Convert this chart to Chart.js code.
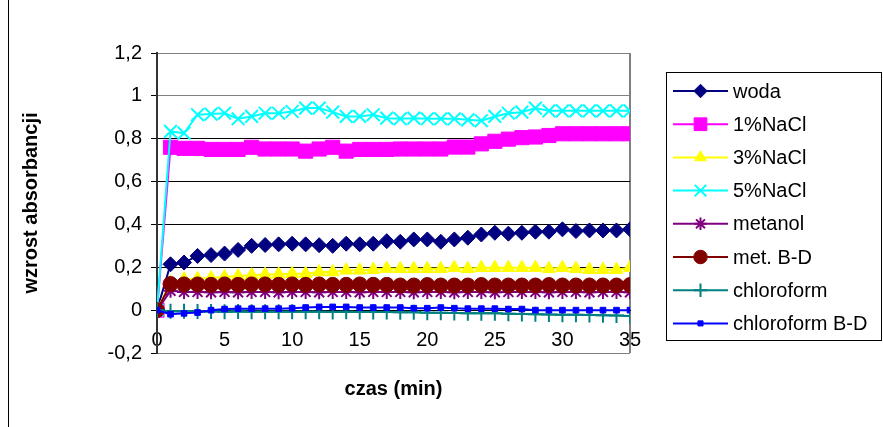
<!DOCTYPE html>
<html>
<head>
<meta charset="utf-8">
<script src="https://cdn.jsdelivr.net/npm/chart.js"></script>
<style>
  html, body { margin: 0; padding: 0; background: #fff; }
  #wrap { position: relative; width: 883px; height: 427px; }
  #frame { position: absolute; left: 8px; top: 0; width: 1px; height: 427px; background: #000; }
</style>
</head>
<body>
<div id="wrap">
  <canvas id="absChart"></canvas>
  <div id="frame"></div>
</div>
<script>
const minutes = [0, 1, 2, 3, 4, 5, 6, 7, 8, 9, 10, 11, 12, 13, 14, 15, 16, 17,
                 18, 19, 20, 21, 22, 23, 24, 25, 26, 27, 28, 29, 30, 31, 32, 33, 34, 35];

const woda = [0, 0.214, 0.222, 0.253, 0.257, 0.264, 0.281, 0.300, 0.304, 0.307, 0.310, 0.307,
              0.303, 0.300, 0.310, 0.307, 0.310, 0.322, 0.319, 0.330, 0.330, 0.319, 0.330, 0.338,
              0.353, 0.361, 0.357, 0.361, 0.366, 0.366, 0.377, 0.369, 0.372, 0.372, 0.372, 0.377];
const nacl1 = [0, 0.760, 0.755, 0.755, 0.750, 0.750, 0.750, 0.760, 0.752, 0.752, 0.752, 0.742,
               0.752, 0.760, 0.742, 0.750, 0.750, 0.750, 0.752, 0.752, 0.752, 0.752, 0.761, 0.761,
               0.776, 0.788, 0.798, 0.805, 0.808, 0.815, 0.823, 0.823, 0.823, 0.823, 0.823, 0.823];
const nacl3 = [0, 0.130, 0.144, 0.147, 0.150, 0.155, 0.159, 0.163, 0.166, 0.167, 0.170, 0.170,
               0.178, 0.178, 0.186, 0.186, 0.189, 0.194, 0.193, 0.193, 0.193, 0.193, 0.198, 0.193,
               0.198, 0.198, 0.198, 0.198, 0.198, 0.193, 0.198, 0.193, 0.189, 0.189, 0.189, 0.198];
const nacl5 = [0, 0.834, 0.826, 0.912, 0.915, 0.919, 0.893, 0.904, 0.919, 0.919, 0.927, 0.943,
               0.943, 0.924, 0.904, 0.904, 0.912, 0.896, 0.893, 0.896, 0.893, 0.893, 0.893, 0.888,
               0.884, 0.904, 0.919, 0.924, 0.943, 0.930, 0.930, 0.930, 0.930, 0.930, 0.930, 0.930];
const metanol = [0, 0.090, 0.085, 0.085, 0.083, 0.085, 0.083, 0.085, 0.085, 0.083, 0.085, 0.085,
                 0.083, 0.085, 0.085, 0.083, 0.085, 0.085, 0.085, 0.083, 0.085, 0.085, 0.083, 0.085,
                 0.085, 0.083, 0.085, 0.085, 0.085, 0.083, 0.085, 0.085, 0.083, 0.085, 0.085, 0.083];
const metBD = [0, 0.122, 0.120, 0.120, 0.118, 0.120, 0.118, 0.120, 0.120, 0.118, 0.120, 0.118,
               0.120, 0.118, 0.118, 0.120, 0.118, 0.118, 0.115, 0.115, 0.117, 0.115, 0.115, 0.115,
               0.117, 0.115, 0.115, 0.115, 0.115, 0.117, 0.115, 0.115, 0.115, 0.115, 0.115, 0.117];
const chloroform = [0, -0.005, -0.005, -0.006, -0.006, -0.007, -0.006, -0.007, -0.007, -0.008, -0.007, -0.008,
                    -0.008, -0.009, -0.008, -0.009, -0.009, -0.009, -0.010, -0.010, -0.012, -0.012, -0.013, -0.014,
                    -0.015, -0.015, -0.017, -0.018, -0.019, -0.020, -0.021, -0.022, -0.023, -0.024, -0.025, -0.027];
const chloroformBD = [0, -0.019, -0.015, -0.011, 0.000, 0.005, 0.007, 0.007, 0.007, 0.007, 0.009, 0.012,
                      0.015, 0.015, 0.015, 0.012, 0.012, 0.012, 0.012, 0.009, 0.009, 0.012, 0.009, 0.007,
                      0.007, 0.007, 0.005, 0.005, 0.000, 0.000, 0.000, 0.000, 0.000, 0.000, 0.000, 0.000];

const seriesNames = ['woda', '1%NaCl', '3%NaCl', '5%NaCl', 'metanol', 'met. B-D', 'chloroform', 'chloroform B-D'];
const yTickLabels = ['-0,2', '0', '0,2', '0,4', '0,6', '0,8', '1', '1,2'];

const FONT = 'Liberation Sans, Arial, sans-serif';
Chart.defaults.color = '#000';
Chart.defaults.font.family = FONT;

const styles = [
    { color: '#000080', pointStyle: 'rectRot', radius: 7.5, bw: 1 },
    { color: '#FF00FF', pointStyle: 'rect', radius: 10, bw: 1 },
    { color: '#FFFF00', pointStyle: 'triangle', radius: 7.5, bw: 1 },
    { color: '#00FFFF', pointStyle: 'crossRot', radius: 9, bw: 2 },
    { color: '#800080', pointStyle: 'star', radius: 7, bw: 2 },
    { color: '#800000', pointStyle: 'circle', radius: 7.5, bw: 1 },
    { color: '#008080', pointStyle: 'cross', radius: 7.5, bw: 2 },
    { color: '#0000FF', pointStyle: 'rect', radius: 4, bw: 1 },
];

const allValues = [woda, nacl1, nacl3, nacl5, metanol, metBD, chloroform, chloroformBD];

const datasets = allValues.map((vals, i) => ({
    label: seriesNames[i],
    data: minutes.map((m, k) => ({ x: m, y: vals[k] })),
    borderColor: styles[i].color,
    backgroundColor: styles[i].color,
    borderWidth: 2,
    pointStyle: styles[i].pointStyle,
    pointRadius: styles[i].radius,
    pointHoverRadius: styles[i].radius,
    pointBorderWidth: styles[i].bw,
    tension: 0,
    order: allValues.length - i,
}));

// Excel-like legend: line sample with marker in the middle
const lineLegend = {
    id: 'lineLegend',
    afterDraw(chart) {
        const ctx = chart.ctx;
        ctx.save();
        ctx.strokeStyle = '#000';
        ctx.lineWidth = 1;
        ctx.strokeRect(666.5, 72.5, 215, 268);
        ctx.font = '20px ' + FONT;
        ctx.textBaseline = 'middle';
        seriesNames.forEach((name, i) => {
            const y = 91 + i * 33.2;
            const st = styles[i];
            ctx.strokeStyle = st.color;
            ctx.fillStyle = st.color;
            ctx.lineWidth = 2;
            ctx.beginPath();
            ctx.moveTo(673, y);
            ctx.lineTo(728, y);
            ctx.stroke();
            ctx.lineWidth = st.bw;
            Chart.helpers.drawPoint(ctx, { pointStyle: st.pointStyle, radius: st.radius * 0.9, rotation: 0, borderWidth: st.bw }, 700.5, y);
            ctx.fillStyle = '#000';
            ctx.fillText(name, 733, y + 1);
        });
        ctx.restore();
    }
};

new Chart(document.getElementById('absChart'), {
    type: 'line',
    data: { datasets },
    options: {
        responsive: true,
        maintainAspectRatio: false,
        animation: false,
        layout: { padding: { top: 53, right: 253, bottom: 0, left: 0 } },
        plugins: { legend: { display: false }, tooltip: { enabled: false } },
        scales: {
            x: {
                type: 'linear',
                position: { y: 0 },
                min: 0,
                max: 35,
                ticks: { stepSize: 5, padding: 18, font: { size: 20 }, maxRotation: 0 },
                grid: {
                    drawTicks: false,
                    lineWidth: 2,
                    color: (c) => (c.tick && c.tick.value === 35 ? '#808080' : 'rgba(0,0,0,0)'),
                },
                border: { display: true, color: '#000', width: 1 },
            },
            x2: {
                type: 'linear',
                position: 'bottom',
                min: 0,
                max: 35,
                ticks: { display: false },
                grid: { display: false },
                border: { display: false },
                title: { display: true, text: 'czas (min)', font: { size: 20, weight: 'bold' }, padding: { top: 0, bottom: 26 } },
                afterFit: (s) => { s.height = 74; },
            },
            y: {
                min: -0.2,
                max: 1.2,
                ticks: { stepSize: 0.2, padding: 9, font: { size: 20 }, callback: (v, i) => yTickLabels[i] },
                grid: {
                    tickLength: 6,
                    tickColor: '#000',
                    lineWidth: 1,
                    color: (c) => {
                        const v = c.tick ? c.tick.value : 0;
                        return (v > 0.9 || v < -0.1) ? '#808080' : '#000';
                    },
                },
                border: { display: true, color: '#333', width: 2 },
                title: { display: true, text: 'wzrost absorbancji', font: { size: 20, weight: 'bold' }, padding: { top: 19, bottom: 0 } },
                afterFit: (s) => { s.width = 157; },
            },
        },
    },
    plugins: [lineLegend],
});
</script>
</body>
</html>
